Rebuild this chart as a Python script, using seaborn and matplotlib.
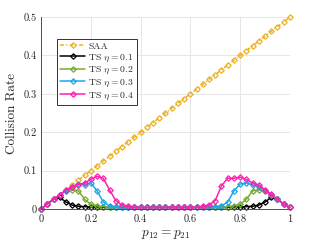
import matplotlib
matplotlib.use("Agg")
import matplotlib.pyplot as plt
import numpy as np
import pandas as pd
import seaborn as sns

# sample points of p12 = p21
p_vals = [0.0, 0.025, 0.05, 0.075, 0.1, 0.125, 0.15, 0.175, 0.2, 0.225,
          0.25, 0.275, 0.3, 0.325, 0.35, 0.375, 0.4, 0.425, 0.45, 0.475,
          0.5, 0.525, 0.55, 0.575, 0.6, 0.625, 0.65, 0.675, 0.7, 0.725,
          0.75, 0.775, 0.8, 0.825, 0.85, 0.875, 0.9, 0.925, 0.95, 0.975, 1.0]

saa = [0.0, 0.0125, 0.025, 0.0375, 0.05, 0.0625, 0.075, 0.0875, 0.1, 0.1125,
       0.125, 0.1375, 0.15, 0.1625, 0.175, 0.1875, 0.2, 0.2125, 0.225, 0.2375,
       0.25, 0.2625, 0.275, 0.2875, 0.3, 0.3125, 0.325, 0.3375, 0.35, 0.3625,
       0.375, 0.3875, 0.4, 0.4125, 0.425, 0.4375, 0.45, 0.4625, 0.475, 0.4875, 0.5]

ts_01 = [0.0, 0.013, 0.025, 0.030, 0.018, 0.010, 0.007, 0.006, 0.005, 0.005,
         0.004, 0.004, 0.004, 0.004, 0.004, 0.004, 0.004, 0.004, 0.004, 0.004,
         0.004, 0.004, 0.004, 0.004, 0.004, 0.004, 0.004, 0.004, 0.004, 0.004,
         0.004, 0.005, 0.005, 0.006, 0.007, 0.010, 0.018, 0.030, 0.025, 0.013, 0.004]

ts_02 = [0.0, 0.013, 0.025, 0.037, 0.046, 0.050, 0.047, 0.025, 0.012, 0.008,
         0.006, 0.004, 0.004, 0.004, 0.004, 0.004, 0.004, 0.004, 0.004, 0.004,
         0.004, 0.004, 0.004, 0.004, 0.004, 0.004, 0.004, 0.004, 0.004, 0.004,
         0.006, 0.008, 0.012, 0.025, 0.047, 0.050, 0.046, 0.037, 0.025, 0.013, 0.004]

ts_03 = [0.0, 0.013, 0.025, 0.037, 0.047, 0.057, 0.065, 0.063, 0.068, 0.047,
         0.018, 0.008, 0.006, 0.004, 0.004, 0.004, 0.004, 0.004, 0.004, 0.004,
         0.004, 0.004, 0.004, 0.004, 0.004, 0.004, 0.004, 0.004, 0.006, 0.008,
         0.018, 0.047, 0.065, 0.067, 0.063, 0.057, 0.047, 0.037, 0.025, 0.013, 0.004]

ts_04 = [0.0, 0.013, 0.025, 0.037, 0.050, 0.057, 0.063, 0.068, 0.077, 0.085,
         0.080, 0.050, 0.022, 0.010, 0.007, 0.004, 0.004, 0.004, 0.004, 0.004,
         0.004, 0.004, 0.004, 0.004, 0.004, 0.004, 0.007, 0.010, 0.022, 0.060,
         0.080, 0.080, 0.083, 0.077, 0.068, 0.062, 0.050, 0.038, 0.025, 0.013, 0.004]

labels = ["SAA", r"TS $\eta = 0.1$", r"TS $\eta = 0.2$", r"TS $\eta = 0.3$", r"TS $\eta = 0.4$"]
colors = ["#EDB120", "#000000", "#77AC30", "#1AA7F0", "#FF1FB0"]
styles = [(0, (2.5, 1.5, 0.8, 1.5)), "-", "-", "-", "-"]

sns.set_theme(style="whitegrid")
plt.rcParams["font.family"] = ["cmr10", "DejaVu Serif"]
plt.rcParams["mathtext.fontset"] = "cm"
plt.rcParams["axes.formatter.use_mathtext"] = True

fig = plt.figure(figsize=(3.21, 2.41), dpi=100)
ax = fig.add_axes([0.128, 0.133, 0.775, 0.796])

series = [saa, ts_01, ts_02, ts_03, ts_04]
for vals, lab, col, ls in zip(series, labels, colors, styles):
    df = pd.DataFrame({"p": p_vals, "rate": vals})
    sns.lineplot(data=df, x="p", y="rate", ax=ax, color=col,
                 linewidth=1.1, marker="D", markersize=2.8, markerfacecolor="none",
                 markeredgecolor=col, markeredgewidth=0.9, label=lab, clip_on=False)
    ax.lines[-1].set_linestyle(ls)

ax.set_xlim(0, 1)
ax.set_ylim(0, 0.5)
ax.set_xticks([0, 0.2, 0.4, 0.6, 0.8, 1])
ax.set_xticklabels(["0", "0.2", "0.4", "0.6", "0.8", "1"])
ax.set_yticks([0, 0.1, 0.2, 0.3, 0.4, 0.5])
ax.set_yticklabels(["0", "0.1", "0.2", "0.3", "0.4", "0.5"])
ax.tick_params(labelsize=7.5, length=0, colors="#262626")
ax.tick_params(axis="x", pad=4)
ax.tick_params(axis="y", pad=3)
ax.set_xlabel(r"$p_{12} = p_{21}$", fontsize=9.5, labelpad=3)
ax.set_ylabel("Collision Rate", fontsize=9.5, labelpad=4)
ax.grid(True, color="#E6E6E6", linewidth=0.7)

for side in ["top", "right"]:
    ax.spines[side].set_visible(False)
for side in ["left", "bottom"]:
    ax.spines[side].set_color("#4D4D4D")
    ax.spines[side].set_linewidth(0.7)

leg = ax.legend(loc="upper left", bbox_to_anchor=(0.065, 0.885), fontsize=7,
                frameon=True, fancybox=False, borderpad=0.3, labelspacing=0.15,
                handlelength=2.6, handletextpad=0.3, borderaxespad=0)
leg.get_frame().set_edgecolor("#333333")
leg.get_frame().set_linewidth(0.7)
leg.get_frame().set_alpha(1)

fig.savefig("out.png", dpi=100)
